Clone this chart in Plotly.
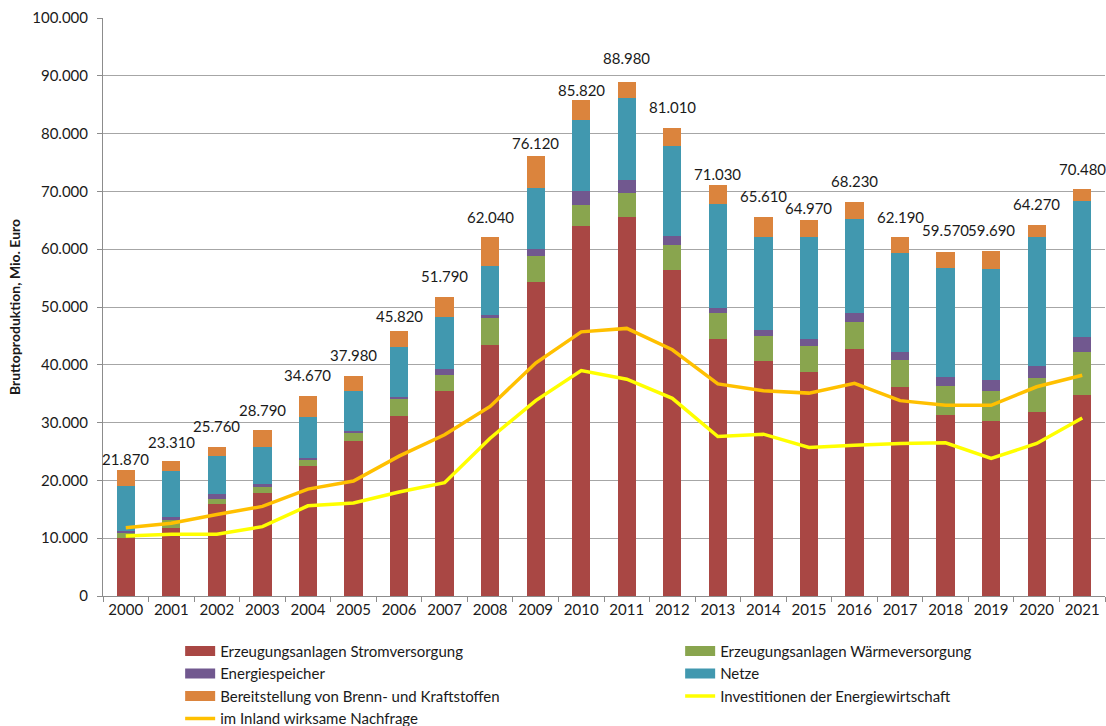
import plotly.graph_objects as go

years = [str(y) for y in range(2000, 2022)]

# Bruttoproduktion nach Bereich, Mio. Euro
strom = [10100, 11800, 15900, 17900, 22500, 26800, 31200, 35400, 43400, 54300, 64000,
         65600, 56400, 44500, 40700, 38700, 42700, 36200, 31300, 30300, 31900, 34800]
waerme = [850, 1300, 800, 900, 1000, 1500, 2800, 2800, 4700, 4600, 3700,
          4100, 4300, 4400, 4300, 4600, 4700, 4700, 5000, 5200, 5900, 7500]
speicher = [250, 600, 900, 600, 400, 200, 400, 1100, 500, 1100, 2400,
            2200, 1500, 1000, 1000, 1200, 1500, 1300, 1600, 1900, 2000, 2500]
netze = [7800, 7900, 6600, 6300, 7000, 7000, 8700, 9000, 8500, 10600, 12200,
         14300, 15700, 18000, 16100, 17600, 16300, 17100, 18800, 19200, 22300, 23600]
brennstoffe = [2870, 1710, 1560, 3090, 3770, 2480, 2720, 3490, 4940, 5520, 3520,
               2780, 3110, 3130, 3510, 2870, 3030, 2890, 2870, 3090, 2170, 2080]

investitionen = [10400, 10700, 10700, 12000, 15600, 16100, 18000, 19600, 27300, 33800, 39000,
                 37500, 34200, 27600, 28000, 25700, 26100, 26400, 26500, 23800, 26400, 30800]
nachfrage = [11800, 12600, 14100, 15500, 18500, 19900, 24200, 27900, 32800, 40300, 45700,
             46300, 42600, 36700, 35500, 35100, 36800, 33800, 33000, 33000, 36200, 38200]

totals = [a + b + c + d + e for a, b, c, d, e in zip(strom, waerme, speicher, netze, brennstoffe)]

FONT = "Lato, 'Open Sans', sans-serif"
TXT = "#1a1a1a"

# (name, values, colour, legend column)
bar_series = [
    ("Erzeugungsanlagen Stromversorgung", strom, "#A94744", "legend"),
    ("Erzeugungsanlagen Wärmeversorgung", waerme, "#89A54E", "legend2"),
    ("Energiespeicher", speicher, "#71588F", "legend"),
    ("Netze", netze, "#4198AF", "legend2"),
    ("Bereitstellung von Brenn- und Kraftstoffen", brennstoffe, "#DB843D", "legend"),
]
line_series = [
    ("Investitionen der Energiewirtschaft", investitionen, "#FFFF00", "legend2"),
    ("im Inland wirksame Nachfrage", nachfrage, "#FFC000", "legend"),
]

fig = go.Figure()

for name, vals, col, _ in bar_series:
    fig.add_trace(go.Bar(x=years, y=vals, name=name, marker=dict(color=col, line=dict(width=0)),
                         showlegend=False, hoverinfo="y+name"))

for name, vals, col, _ in line_series:
    fig.add_trace(go.Scatter(x=years, y=vals, name=name, mode="lines",
                             line=dict(color=col, width=3.5), showlegend=False))

# legend entries: wide flat swatches for the bars, thin strokes for the lines
for name, vals, col, lg in bar_series:
    fig.add_trace(go.Scatter(x=[years[0]], y=[None], name=name, mode="lines",
                             line=dict(color=col, width=10), showlegend=True, legend=lg))
for name, vals, col, lg in line_series:
    fig.add_trace(go.Scatter(x=[years[0]], y=[None], name=name, mode="lines",
                             line=dict(color=col, width=3.5), showlegend=True, legend=lg))

# total value above each stacked bar
label_lift = [11, 19, 21, 20, 21, 21, 15, 21, 20, 13, 10,
              24, 21, 11, 21, 12, 21, 20, 22, 21, 21, 20]
for i, (tot, lift) in enumerate(zip(totals, label_lift)):
    fig.add_annotation(x=i, y=tot, text=f"{tot:,}".replace(",", "."), showarrow=False,
                       yanchor="middle", yshift=lift, font=dict(family=FONT, size=15, color=TXT))

legend_style = dict(orientation="v", xanchor="left", y=-0.067, yanchor="top",
                    traceorder="normal", font=dict(family=FONT, size=15, color=TXT),
                    itemwidth=30, bgcolor="rgba(0,0,0,0)", tracegroupgap=0)

fig.update_layout(
    width=1106, height=726,
    margin=dict(l=103, r=1, t=18, b=130, autoexpand=False),
    paper_bgcolor="white", plot_bgcolor="white",
    barmode="stack", bargap=0.6,
    separators=",.",
    font=dict(family=FONT, size=15, color=TXT),
    legend=dict(x=0.077, **legend_style),
    legend2=dict(x=0.576, **legend_style),
)

fig.update_xaxes(type="category", range=[-0.5, len(years) - 0.5], showline=True,
                 linecolor="#8C8C8C", linewidth=1,
                 ticks="outside", tickson="boundaries", ticklen=5, tickcolor="#8C8C8C",
                 showgrid=False, tickfont=dict(family=FONT, size=15, color=TXT))
fig.update_yaxes(range=[0, 100000], dtick=10000, tickformat=",d", showline=True,
                 linecolor="#8C8C8C", linewidth=1, ticks="outside", ticklen=5,
                 tickcolor="#8C8C8C", showgrid=True, gridcolor="#A6A6A6", gridwidth=1,
                 zeroline=False, ticklabelstandoff=6,
                 tickfont=dict(family=FONT, size=15, color=TXT),
                 title=dict(text="<b>Bruttoproduktion, Mio. Euro</b>", standoff=8,
                            font=dict(family=FONT, size=14, color=TXT)))

fig.write_html("out.html")
